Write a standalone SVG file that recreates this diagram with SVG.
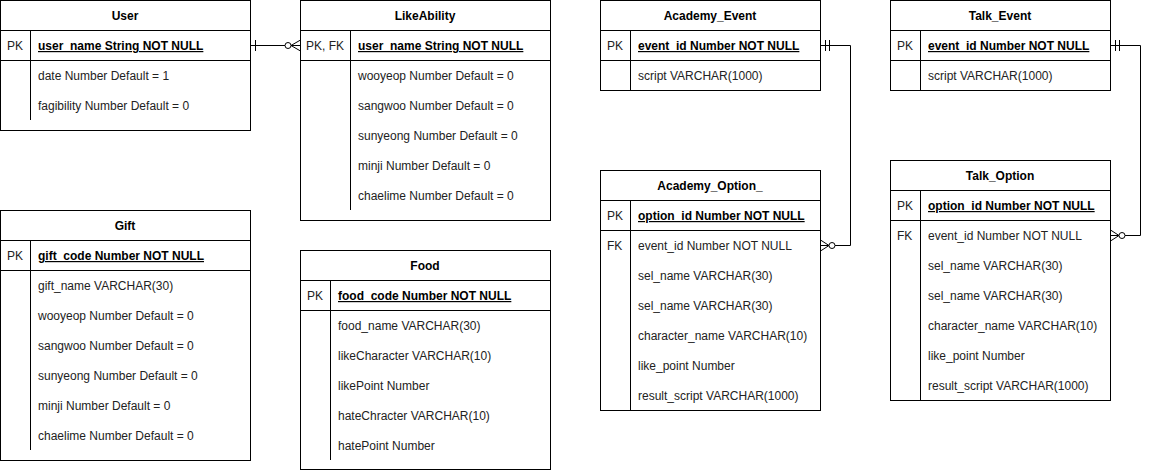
<svg xmlns="http://www.w3.org/2000/svg" width="1150" height="471" viewBox="0 0 1150 471">
<style>
.box{fill:#fff;stroke:#000;stroke-width:1}
.ln{stroke:#000;stroke-width:1;fill:none}
text{font-family:"Liberation Sans",Arial,sans-serif;font-size:12px;fill:#000}
.h{font-weight:bold;text-anchor:middle}
.k{font-weight:bold;text-decoration:underline}
.a{fill:#222}
</style>
<g id="User">
<rect class="box" x="0.5" y="0.5" width="250" height="130"/>
<path class="ln" d="M0.5 30.5H250.5M0.5 60.5H250.5M30.5 30.5V120"/>
<text class="h" x="125" y="20">User</text>
<text class="a" x="7" y="50">PK</text>
<text class="k" x="38" y="50">user_name String NOT NULL</text>
<text class="a" x="38" y="80">date Number Default = 1</text>
<text class="a" x="38" y="110">fagibility Number Default = 0</text>
</g>
<g id="LikeAbility">
<rect class="box" x="300.5" y="0.5" width="250" height="220"/>
<path class="ln" d="M300.5 30.5H550.5M300.5 60.5H550.5M350.5 30.5V210"/>
<text class="h" x="425" y="20">LikeAbility</text>
<text class="a" x="306" y="50">PK, FK</text>
<text class="k" x="358" y="50">user_name String NOT NULL</text>
<text class="a" x="358" y="80">wooyeop Number Default = 0</text>
<text class="a" x="358" y="110">sangwoo Number Default = 0</text>
<text class="a" x="358" y="140">sunyeong Number Default = 0</text>
<text class="a" x="358" y="170">minji Number Default = 0</text>
<text class="a" x="358" y="200">chaelime Number Default = 0</text>
</g>
<g id="Gift">
<rect class="box" x="0.5" y="210.5" width="250" height="250"/>
<path class="ln" d="M0.5 240.5H250.5M0.5 270.5H250.5M30.5 240.5V450"/>
<text class="h" x="125" y="230">Gift</text>
<text class="a" x="7" y="260">PK</text>
<text class="k" x="38" y="260">gift_code Number NOT NULL</text>
<text class="a" x="38" y="290">gift_name VARCHAR(30)</text>
<text class="a" x="38" y="320">wooyeop Number Default = 0</text>
<text class="a" x="38" y="350">sangwoo Number Default = 0</text>
<text class="a" x="38" y="380">sunyeong Number Default = 0</text>
<text class="a" x="38" y="410">minji Number Default = 0</text>
<text class="a" x="38" y="440">chaelime Number Default = 0</text>
</g>
<g id="Food">
<rect class="box" x="300.5" y="250.5" width="250" height="219"/>
<path class="ln" d="M300.5 280.5H550.5M300.5 310.5H550.5M330.5 280.5V460"/>
<text class="h" x="425" y="270">Food</text>
<text class="a" x="307" y="300">PK</text>
<text class="k" x="338" y="300">food_code Number NOT NULL</text>
<text class="a" x="338" y="330">food_name VARCHAR(30)</text>
<text class="a" x="338" y="360">likeCharacter VARCHAR(10)</text>
<text class="a" x="338" y="390">likePoint Number</text>
<text class="a" x="338" y="420">hateChracter VARCHAR(10)</text>
<text class="a" x="338" y="450">hatePoint Number</text>
</g>
<g id="Academy_Event">
<rect class="box" x="600.5" y="0.5" width="220" height="90"/>
<path class="ln" d="M600.5 30.5H820.5M600.5 60.5H820.5M630.5 30.5V90.5"/>
<text class="h" x="710" y="20">Academy_Event</text>
<text class="a" x="607" y="50">PK</text>
<text class="k" x="638" y="50">event_id Number NOT NULL</text>
<text class="a" x="638" y="80">script VARCHAR(1000)</text>
</g>
<g id="Academy_Option_">
<rect class="box" x="600.5" y="170.5" width="220" height="240"/>
<path class="ln" d="M600.5 200.5H820.5M600.5 230.5H820.5M630.5 200.5V410.5"/>
<text class="h" x="710" y="190">Academy_Option_</text>
<text class="a" x="607" y="220">PK</text>
<text class="k" x="638" y="220">option_id Number NOT NULL</text>
<text class="a" x="607" y="250">FK</text>
<text class="a" x="638" y="250">event_id Number NOT NULL</text>
<text class="a" x="638" y="280">sel_name VARCHAR(30)</text>
<text class="a" x="638" y="310">sel_name VARCHAR(30)</text>
<text class="a" x="638" y="340">character_name VARCHAR(10)</text>
<text class="a" x="638" y="370">like_point Number</text>
<text class="a" x="638" y="400">result_script VARCHAR(1000)</text>
</g>
<g id="Talk_Event">
<rect class="box" x="890.5" y="0.5" width="220" height="90"/>
<path class="ln" d="M890.5 30.5H1110.5M890.5 60.5H1110.5M920.5 30.5V90.5"/>
<text class="h" x="1000" y="20">Talk_Event</text>
<text class="a" x="897" y="50">PK</text>
<text class="k" x="928" y="50">event_id Number NOT NULL</text>
<text class="a" x="928" y="80">script VARCHAR(1000)</text>
</g>
<g id="Talk_Option">
<rect class="box" x="890.5" y="160.5" width="220" height="240"/>
<path class="ln" d="M890.5 190.5H1110.5M890.5 220.5H1110.5M920.5 190.5V400.5"/>
<text class="h" x="1000" y="180">Talk_Option</text>
<text class="a" x="897" y="210">PK</text>
<text class="k" x="928" y="210">option_id Number NOT NULL</text>
<text class="a" x="897" y="240">FK</text>
<text class="a" x="928" y="240">event_id Number NOT NULL</text>
<text class="a" x="928" y="270">sel_name VARCHAR(30)</text>
<text class="a" x="928" y="300">sel_name VARCHAR(30)</text>
<text class="a" x="928" y="330">character_name VARCHAR(10)</text>
<text class="a" x="928" y="360">like_point Number</text>
<text class="a" x="928" y="390">result_script VARCHAR(1000)</text>
</g>
<g id="connectors" fill="none" stroke="#000" stroke-width="1">
<path d="M250.5 45.5H285"/>
<path d="M255.5 40V51"/>
<circle cx="288" cy="45.5" r="3" fill="#fff"/>
<path d="M291 45.5L300.5 40M291 45.5H300.5M291 45.5L300.5 51"/>

<path d="M820.5 45.5H850.5V245.5H835"/>
<path d="M825.5 40V51M829.5 40V51"/>
<circle cx="832" cy="245.5" r="3" fill="#fff"/>
<path d="M829 245.5L820.5 240M829 245.5H820.5M829 245.5L820.5 251"/>

<path d="M1110.5 45.5H1140.5V235.5H1125"/>
<path d="M1115.5 40V51M1119.5 40V51"/>
<circle cx="1122" cy="235.5" r="3" fill="#fff"/>
<path d="M1119 235.5L1110.5 230M1119 235.5H1110.5M1119 235.5L1110.5 241"/>
</g>
</svg>
